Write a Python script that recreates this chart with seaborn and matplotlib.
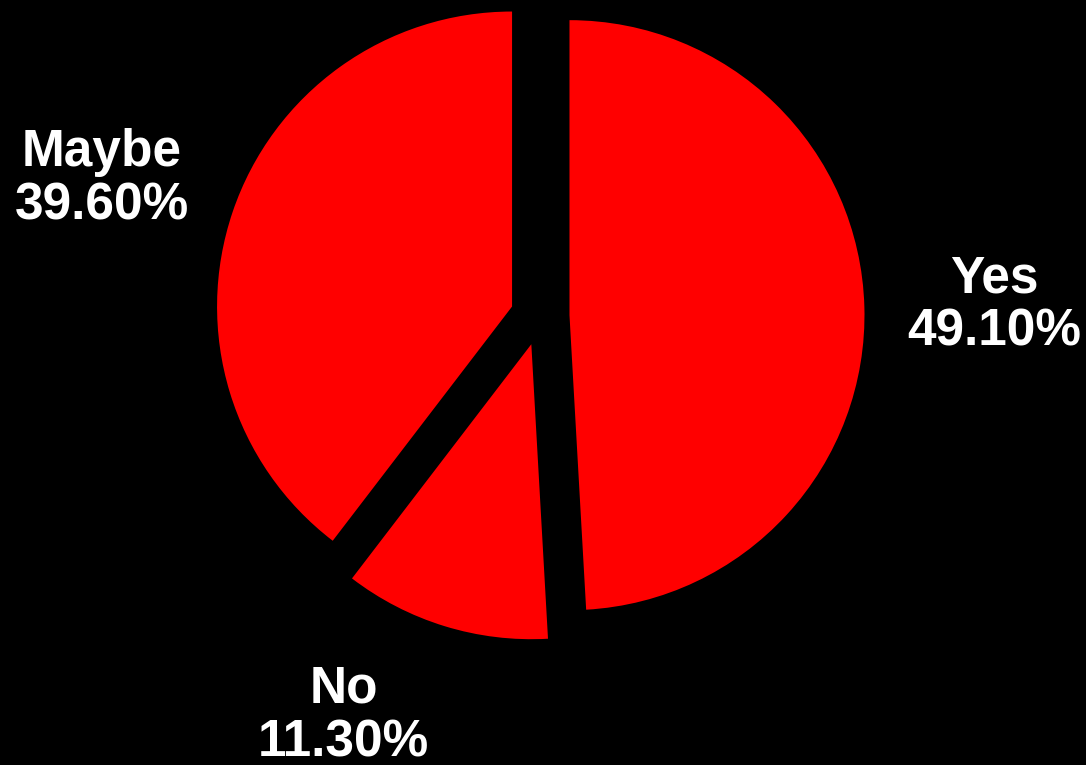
import matplotlib
matplotlib.use("Agg")
import matplotlib.pyplot as plt
import seaborn as sns

categories = ["Yes", "No", "Maybe"]
values = [49.1, 11.3, 39.6]
pct_labels = ["49.10%", "11.30%", "39.60%"]

sns.set_theme(style="white")
plt.rcParams['font.family'] = ['Liberation Sans', 'DejaVu Sans']

fig = plt.figure(figsize=(10.86, 7.65), dpi=100, facecolor="black")
ax = fig.add_axes([0, 0, 1, 1])
ax.set_facecolor("black")

colors = ["#FF0000"] * len(values)
ax.pie(values, startangle=90, counterclock=False, colors=colors,
       explode=[0.1] * len(values),
       wedgeprops=dict(linewidth=0, edgecolor="none"))

# label positions (data units, radius = 1)
label_pos = {"Yes": (1.540, 0.035), "Maybe": (-1.485, 0.465), "No": (-0.665, -1.355)}
for cat, pct in zip(categories, pct_labels):
    x, y = label_pos[cat]
    ax.text(x, y, f"{cat}\n{pct}", color="white", fontsize=37, fontweight="bold",
            ha="center", va="center", multialignment="center", linespacing=1.12)

R = 295.0
cx, cy = 540.0, 316.0
ax.set_aspect("auto")
ax.set_xlim(-cx / R, (1086 - cx) / R)
ax.set_ylim(-(765 - cy) / R, cy / R)
ax.axis("off")

fig.savefig("out.png", dpi=100, facecolor="black")
